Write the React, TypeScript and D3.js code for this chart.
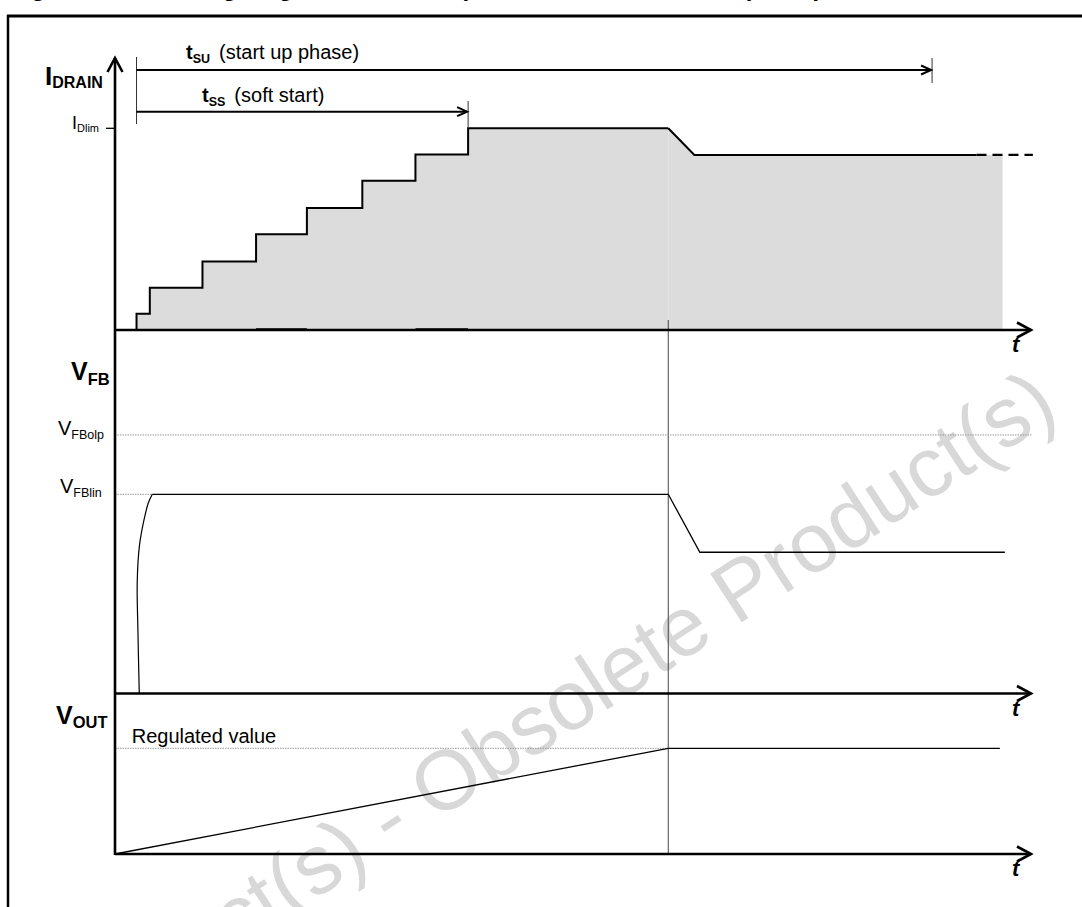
import React from "react";
import * as d3 from "d3";

// time axis in arbitrary units (ms)
const stepTimes = [0.47, 0.76, 1.91, 3.08, 4.19, 5.4, 6.56, 7.71];
const stepLevels = [0.08, 0.21, 0.34, 0.475, 0.605, 0.74, 0.87, 1.0];
const limitEndT = 12.08;
const drainTailT = [12.08, 12.65, 18.81];
const drainTailI = [1.0, 0.868, 0.868];
const drainDashT = [18.81, 20.04];
const drainFillEndT = 19.38;
const tSuEnd = 17.84;
const tSsEnd = 7.71;
const tStart = 0.47;

// V_FB: fast rise then plateau at V_FBlin, then drop
const fbRiseT = [0.53, 0.5, 0.485, 0.53, 0.633, 0.727, 0.814];
const fbRiseV = [0, 0.32, 0.555, 0.735, 0.871, 0.956, 1.0];
const fbTailT = [0.814, 12.08, 12.77, 19.43];
const fbTailV = [1.0, 1.0, 0.709, 0.709];
const vFbLin = 1.0;
const vFbOlp = 1.298;

// V_OUT ramps to the regulated value
const outT = [0, 12.08, 19.32];
const outV = [0, 1, 1];

// thicker bits on the I_DRAIN baseline
const baseMarks = [
  [3.08, 4.19],
  [6.56, 7.71],
];

const FONT = "'Liberation Sans', Arial, Helvetica, sans-serif";

const x = d3.scaleLinear().domain([0, 20]).range([115, 1031]);
const yI = d3.scaleLinear().domain([0, 1]).range([330, 128.3]);
const yFB = d3.scaleLinear().domain([0, 1]).range([693.5, 494.3]);
const yOut = d3.scaleLinear().domain([0, 1]).range([854, 748.3]);

type P = { t: number; v: number };
const zip = (ts: number[], vs: number[]): P[] => ts.map((t, i) => ({ t, v: vs[i] }));

const chevronRight = (tx: number, ty: number, d: number, h: number) =>
  `M${tx - d},${ty - h}L${tx},${ty}L${tx - d},${ty + h}`;

export default function App() {
  const stepData: P[] = [
    { t: 0, v: 0 },
    ...zip(stepTimes, stepLevels),
    { t: limitEndT, v: 1 },
  ];
  const tailData = zip(drainTailT, drainTailI);
  const fillTail = [...tailData, { t: drainFillEndT, v: drainTailI[2] }];

  const stepLine = d3
    .line<P>()
    .x((d) => x(d.t))
    .y((d) => yI(d.v))
    .curve(d3.curveStepAfter);
  const stepArea = d3
    .area<P>()
    .x((d) => x(d.t))
    .y0(yI(0))
    .y1((d) => yI(d.v))
    .curve(d3.curveStepAfter);
  const lineI = d3
    .line<P>()
    .x((d) => x(d.t))
    .y((d) => yI(d.v));
  const areaI = d3
    .area<P>()
    .x((d) => x(d.t))
    .y0(yI(0))
    .y1((d) => yI(d.v));

  const fbRise = d3
    .line<P>()
    .x((d) => x(d.t))
    .y((d) => yFB(d.v))
    .curve(d3.curveCatmullRom.alpha(0.5));
  const fbLine = d3
    .line<P>()
    .x((d) => x(d.t))
    .y((d) => yFB(d.v));
  const outLine = d3
    .line<P>()
    .x((d) => x(d.t))
    .y((d) => yOut(d.v));

  const x0 = x(0);
  const xEnd = x(20);
  const baselines = [yI(0), yFB(0), yOut(0)];

  return (
    <svg
      width={1082}
      height={907}
      style={{ position: "absolute", left: 0, top: 0, background: "#fff" }}
      fontFamily={FONT}
    >
      {/* cropped caption (only the descenders show) */}
      <g fontSize={24} fontWeight="bold" fill="#000">
        <text x={10} y={-4}>Figure 24.</text>
        <text x={159} y={-4}>Timing diagram: soft-start phase</text>
        <text x={743} y={-4}>(detail)</text>
      </g>
      {/* frame */}
      <line x1={7} x2={1082} y1={16} y2={16} stroke="#000" strokeWidth={3} />
      <line x1={8} x2={8} y1={15} y2={907} stroke="#000" strokeWidth={2.5} />

      {/* watermark */}
      <g transform="translate(736,626) rotate(-33)" fontSize={84} fill="#d8d8d8">
        <text x={-0.278 * 84} textAnchor="end">Obsolete Product(s) - Obsolete</text>
        <text x={0}>Product(s)</text>
      </g>

      {/* I_DRAIN fill */}
      <path d={stepArea(stepData) || ""} fill="#dcdcdc" />
      <path d={areaI(fillTail) || ""} fill="#dcdcdc" />

      {/* marker at end of start-up */}
      <line
        x1={x(limitEndT)}
        x2={x(limitEndT)}
        y1={yI(0) - 10}
        y2={yOut(0)}
        stroke="#444"
        strokeWidth={1}
      />

      {/* reference levels */}
      <line x1={x0} x2={xEnd + 1} y1={yFB(vFbOlp)} y2={yFB(vFbOlp)} stroke="#999" strokeWidth={1} strokeDasharray="1.5,1" />
      <line x1={x0} x2={x(fbRiseT[fbRiseT.length - 1])} y1={yFB(vFbLin)} y2={yFB(vFbLin)} stroke="#999" strokeWidth={1} strokeDasharray="1.5,1" />
      <line x1={x0} x2={x(limitEndT)} y1={yOut(1)} y2={yOut(1)} stroke="#999" strokeWidth={1} strokeDasharray="1.5,1" />

      {/* I_DRAIN waveform */}
      <path d={stepLine(stepData) || ""} fill="none" stroke="#000" strokeWidth={2} />
      <path d={lineI(tailData) || ""} fill="none" stroke="#000" strokeWidth={2} />
      <path
        d={lineI(drainDashT.map((t) => ({ t, v: drainTailI[2] }))) || ""}
        fill="none"
        stroke="#000"
        strokeWidth={2.2}
        strokeDasharray="10,6"
      />
      {baseMarks.map(([a, b], i) => (
        <line key={i} x1={x(a)} x2={x(b)} y1={yI(0) - 1} y2={yI(0) - 1} stroke="#000" strokeWidth={1.5} />
      ))}

      {/* V_FB waveform */}
      <path d={fbRise(zip(fbRiseT, fbRiseV)) || ""} fill="none" stroke="#000" strokeWidth={1.2} />
      <path d={fbLine(zip(fbTailT, fbTailV)) || ""} fill="none" stroke="#000" strokeWidth={1.3} />

      {/* V_OUT waveform */}
      <path d={outLine(zip(outT, outV)) || ""} fill="none" stroke="#000" strokeWidth={1.3} />

      {/* axes */}
      <line x1={x0} x2={x0} y1={58} y2={yOut(0) + 1} stroke="#000" strokeWidth={2.6} />
      <path d={`M${x0 - 7.5},${72}L${x0},${58}L${x0 + 7.5},${72}`} fill="none" stroke="#000" strokeWidth={2.6} />
      {baselines.map((by, i) => (
        <g key={i}>
          <line x1={x0} x2={xEnd} y1={by} y2={by} stroke="#000" strokeWidth={2.6} />
          <path d={chevronRight(xEnd, by, 14, 7.5)} fill="none" stroke="#000" strokeWidth={2.6} />
          <text
            x={xEnd - 19}
            y={by + 22}
            fontSize={22}
            fontWeight="bold"
            fontStyle="italic"
          >
            t
          </text>
        </g>
      ))}

      {/* I_Dlim tick */}
      <line x1={x0 - 9} x2={x0} y1={yI(1)} y2={yI(1)} stroke="#000" strokeWidth={1.3} />

      {/* t_SU / t_SS arrows */}
      <line x1={x(tStart)} x2={x(tStart)} y1={57} y2={124} stroke="#333" strokeWidth={1} />
      <line x1={x(tSuEnd)} x2={x(tSuEnd)} y1={58} y2={83} stroke="#333" strokeWidth={1} />
      <line x1={x(tSsEnd)} x2={x(tSsEnd)} y1={101} y2={yI(1)} stroke="#333" strokeWidth={1} />
      <line x1={x(tStart)} x2={x(tSuEnd) - 1} y1={70} y2={70} stroke="#000" strokeWidth={2} />
      <path d={chevronRight(x(tSuEnd) - 1, 70, 10, 4.5)} fill="none" stroke="#000" strokeWidth={2} />
      <line x1={x(tStart)} x2={x(tSsEnd) - 1} y1={111.7} y2={111.7} stroke="#000" strokeWidth={2} />
      <path d={chevronRight(x(tSsEnd) - 1, 111.7, 10, 4.5)} fill="none" stroke="#000" strokeWidth={2} />

      {/* labels */}
      <text x={186} y={59} fontSize={20}>
        <tspan fontWeight="bold">t</tspan>
        <tspan fontWeight="bold" fontSize={12.5} dy={4}>SU</tspan>
        <tspan dy={-4} dx={9}>(start up phase)</tspan>
      </text>
      <text x={202} y={102} fontSize={20}>
        <tspan fontWeight="bold">t</tspan>
        <tspan fontWeight="bold" fontSize={12.5} dy={4}>SS</tspan>
        <tspan dy={-4} dx={9}>(soft start)</tspan>
      </text>

      <text x={45} y={85} fontWeight="bold">
        <tspan fontSize={26}>I</tspan>
        <tspan fontSize={16} dy={3}>DRAIN</tspan>
      </text>
      <text x={72} y={129}>
        <tspan fontSize={18}>I</tspan>
        <tspan fontSize={11} dy={3}>Dlim</tspan>
      </text>

      <text x={71} y={380} fontWeight="bold">
        <tspan fontSize={25}>V</tspan>
        <tspan fontSize={16.5} dy={5}>FB</tspan>
      </text>
      <text x={58} y={435}>
        <tspan fontSize={20}>V</tspan>
        <tspan fontSize={12.5} dy={4}>FBolp</tspan>
      </text>
      <text x={60} y={493}>
        <tspan fontSize={20}>V</tspan>
        <tspan fontSize={12.5} dy={4}>FBlin</tspan>
      </text>

      <text x={56} y={724} fontWeight="bold">
        <tspan fontSize={25}>V</tspan>
        <tspan fontSize={16.5} dy={4}>OUT</tspan>
      </text>
      <text x={131.7} y={743} fontSize={20}>
        Regulated value
      </text>
    </svg>
  );
}
